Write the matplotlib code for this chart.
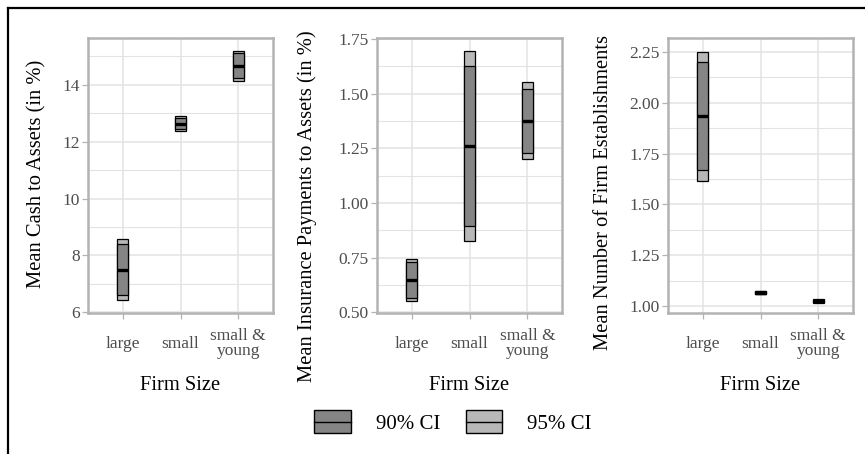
import matplotlib
matplotlib.use("Agg")
import matplotlib.pyplot as plt
from matplotlib.patches import Patch, Rectangle
from matplotlib.lines import Line2D
from matplotlib.legend_handler import HandlerBase

plt.rcParams['font.family'] = ['Liberation Serif', 'DejaVu Serif']

# categories on x
firm_sizes = ["large", "small", "small &\nyoung"]

# panel 1: cash to assets
cash_mean = [7.48, 12.64, 14.68]
cash_lo90 = [6.59, 12.46, 14.24]
cash_hi90 = [8.40, 12.83, 15.11]
cash_lo95 = [6.43, 12.39, 14.15]
cash_hi95 = [8.56, 12.90, 15.18]

# panel 2: insurance payments to assets
ins_mean = [0.647, 1.261, 1.377]
ins_lo90 = [0.565, 0.897, 1.229]
ins_hi90 = [0.732, 1.625, 1.522]
ins_lo95 = [0.552, 0.828, 1.203]
ins_hi95 = [0.745, 1.696, 1.554]

# panel 3: number of establishments
est_mean = [1.933, 1.066, 1.025]
est_lo90 = [1.667, 1.060, 1.018]
est_hi90 = [2.200, 1.072, 1.031]
est_lo95 = [1.616, 1.058, 1.015]
est_hi95 = [2.250, 1.074, 1.033]

dark = "#858585"
light = "#b8b8b8"
grid_col = "#e3e3e3"
border_col = "#b3b3b3"

panels = [
    dict(mean=cash_mean, lo90=cash_lo90, hi90=cash_hi90, lo95=cash_lo95, hi95=cash_hi95,
         ylim=(5.97, 15.65), ticks=[6, 8, 10, 12, 14], minor=[7, 9, 11, 13, 15],
         fmt="{:.0f}", left=88, label="Mean Cash to Assets (in %)", lx=37, ly=174),
    dict(mean=ins_mean, lo90=ins_lo90, hi90=ins_hi90, lo95=ins_lo95, hi95=ins_hi95,
         ylim=(0.497, 1.755), ticks=[0.5, 0.75, 1.0, 1.25, 1.5, 1.75],
         minor=[0.625, 0.875, 1.125, 1.375, 1.625],
         fmt="{:.2f}", left=377, label="Mean Insurance Payments to Assets (in %)", lx=307, ly=206),
    dict(mean=est_mean, lo90=est_lo90, hi90=est_hi90, lo95=est_lo95, hi95=est_hi95,
         ylim=(0.966, 2.318), ticks=[1.0, 1.25, 1.5, 1.75, 2.0, 2.25],
         minor=[1.125, 1.375, 1.625, 1.875, 2.125],
         fmt="{:.2f}", left=668, label="Mean Number of Firm Establishments", lx=603, ly=193),
]


class CrossbarKey(HandlerBase):
    # box with a horizontal line through the middle, like ggplot's crossbar key
    def create_artists(self, legend, orig_handle, xdescent, ydescent, width, height, fontsize, trans):
        r = Rectangle((-xdescent, -ydescent), width, height, facecolor=orig_handle.get_facecolor(),
                      edgecolor="black", lw=1.0, transform=trans)
        mid = -ydescent + height / 2
        ln = Line2D([-xdescent, -xdescent + width], [mid, mid], color="black", lw=1.0, transform=trans)
        return [r, ln]


W, H = 865, 454
fig = plt.figure(figsize=(W / 100, H / 100), dpi=100)

ax_w, top, bottom = 185, 38, 313
x = list(range(1, len(firm_sizes) + 1))
bw = 0.2

for p in panels:
    ax = fig.add_axes([p["left"] / W, 1 - bottom / H, ax_w / W, (bottom - top) / H])
    ax.set_xlim(0.4, 3.6)
    ax.set_ylim(*p["ylim"])
    ax.set_yticks(p["ticks"])
    ax.set_yticklabels([p["fmt"].format(t) for t in p["ticks"]])
    ax.set_yticks(p["minor"], minor=True)
    ax.set_xticks(x)
    ax.set_xticklabels(firm_sizes, linespacing=0.95)
    for lab in ax.get_xticklabels():
        lab.set_va("center")
    ax.grid(True, which="major", color=grid_col, lw=1.1)
    ax.grid(True, which="minor", axis="y", color=grid_col, lw=0.8)
    ax.set_axisbelow(True)
    for s in ax.spines.values():
        s.set_color(border_col)
        s.set_linewidth(1.8)
    ax.tick_params(axis="both", which="major", colors=border_col, labelcolor="#4d4d4d",
                   labelsize=12.5, length=4, width=0.9)
    ax.tick_params(axis="y", pad=2)
    ax.tick_params(axis="x", pad=18)
    ax.tick_params(which="minor", length=0)

    # 95% CI behind, 90% CI on top, mean line
    diff95 = [h - l for h, l in zip(p["hi95"], p["lo95"])]
    diff90 = [h - l for h, l in zip(p["hi90"], p["lo90"])]
    ax.bar(x, diff95, bottom=p["lo95"], width=bw, color=light, edgecolor="black", lw=0.9, zorder=3)
    ax.bar(x, diff90, bottom=p["lo90"], width=bw, color=dark, edgecolor="black", lw=0.9, zorder=4)
    ax.hlines(p["mean"], [v - bw / 2 for v in x], [v + bw / 2 for v in x],
              colors="black", lw=2.4, zorder=5)

    ax.set_xlabel("Firm Size", fontsize=14.8)
    ax.xaxis.set_label_coords(0.5, -(385 - bottom) / (bottom - top))
    ax.xaxis.label.set_va("center")
    fig.text(p["lx"] / W, 1 - p["ly"] / H, p["label"], rotation=90,
             ha="center", va="center", fontsize=14.8)

# legend
h90 = Patch(facecolor=dark)
h95 = Patch(facecolor=light)
fig.legend([h90, h95], ["90% CI", "95% CI"], loc="center", bbox_to_anchor=(453 / W, 1 - 422 / H),
           ncol=2, frameon=False, fontsize=15, handlelength=1.75, handleheight=1.3,
           handletextpad=1.2, columnspacing=1.25,
           handler_map={Patch: CrossbarKey()})

# outer frame (top and left only)
fig.add_artist(Line2D([8 / W, 1], [1 - 8 / H, 1 - 8 / H], color="black", lw=1.6))
fig.add_artist(Line2D([8 / W, 8 / W], [0, 1 - 8 / H], color="black", lw=1.6))

fig.savefig("out.png", dpi=100)
